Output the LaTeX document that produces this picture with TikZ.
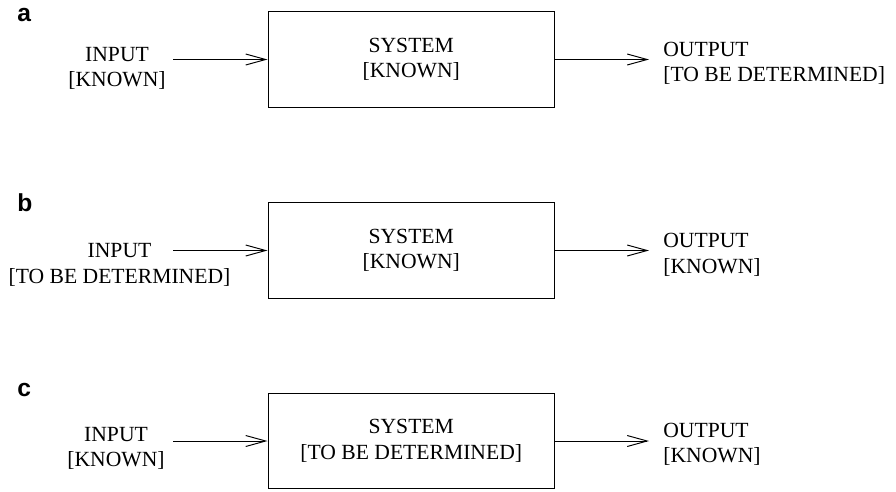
\documentclass[tikz,border=0pt]{standalone}
\usepackage{fontspec}
\setmainfont{Liberation Serif}
\newfontfamily\panelfont{Liberation Sans}
\usetikzlibrary{arrows.meta}

\begin{document}
\begin{tikzpicture}[
		x=0.02cm, y=-0.02cm,
		font=\fontsize{12.3}{14.5}\selectfont,
		block/.style={draw, line width=0.6pt, align=center, inner sep=0pt,
			minimum width=5.73cm, minimum height=1.91cm},
		txt/.style={inner sep=0pt, align=center},
		flow/.style={-{Straight Barb[length=4mm,width=2.2mm]}, line width=0.55pt},
		panel/.style={anchor=base west, inner sep=0pt,
			font=\panelfont\bfseries\fontsize{14}{16}\selectfont}]
		\useasboundingbox (0,0) rectangle (896,491);
		
		% (a) output unknown
		\node[panel] (laba) at (17,21) {a};
		\node[block] (sysa) at (411.25,59.5) {SYSTEM\\{}[KNOWN]};
		\node[txt, anchor=north] (ina) at (117,46.7) {INPUT\\{}[KNOWN]};
		\node[txt, anchor=north west, align=left] (outa) at (663,41.7) {OUTPUT\\{}[TO BE DETERMINED]};
		\coordinate (ina-s) at (173,59.5);
		\coordinate (outa-e) at (649,59.5);
		\draw[flow] (ina-s) -- (sysa);
		\draw[flow] (sysa) -- (outa-e);
		
		% (b) input unknown
		\node[panel] (labb) at (17,211) {b};
		\node[block] (sysb) at (411.25,250.5) {SYSTEM\\{}[KNOWN]};
		\node[txt, anchor=north] (inb) at (119.5,243.3) {INPUT\\{}[TO BE DETERMINED]};
		\node[txt, anchor=north west, align=left] (outb) at (663,233) {OUTPUT\\{}[KNOWN]};
		\coordinate (inb-s) at (173,250.5);
		\coordinate (outb-e) at (649,250.5);
		\draw[flow] (inb-s) -- (sysb);
		\draw[flow] (sysb) -- (outb-e);
		
		% (c) system unknown
		\node[panel] (labc) at (17,396) {c};
		\node[block] (sysc) at (411.25,441) {SYSTEM\\{}[TO BE DETERMINED]};
		\node[txt, anchor=north] (inc) at (116,427) {INPUT\\{}[KNOWN]};
		\node[txt, anchor=north west, align=left] (outc) at (663,422.7) {OUTPUT\\{}[KNOWN]};
		\coordinate (inc-s) at (173,441);
		\coordinate (outc-e) at (649,441);
		\draw[flow] (inc-s) -- (sysc);
		\draw[flow] (sysc) -- (outc-e);
		
\end{tikzpicture}
\end{document}
